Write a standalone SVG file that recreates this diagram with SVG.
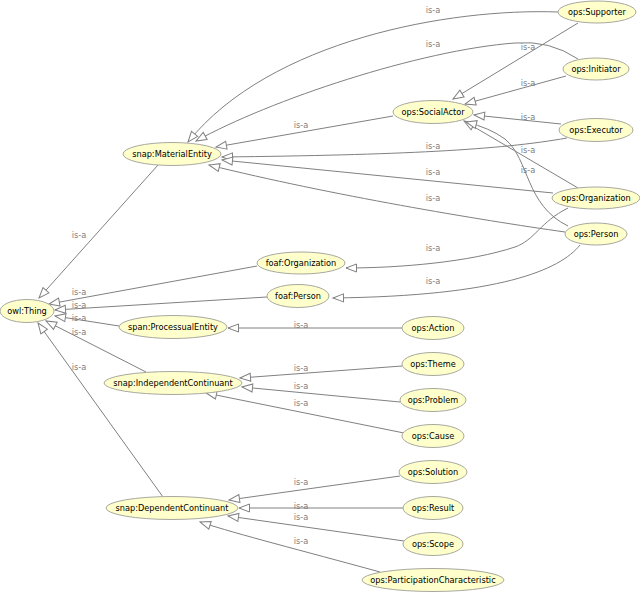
<svg xmlns="http://www.w3.org/2000/svg" width="640" height="592" viewBox="0 0 640 592">
<style>
.n ellipse{fill:#ffffcc;stroke:#a8a8a0;stroke-width:1}
.n text{font-family:"DejaVu Sans",sans-serif;font-size:8.2px;fill:#000;text-anchor:middle;dominant-baseline:central}
.e path{fill:none;stroke:#808080;stroke-width:1;marker-end:url(#tri)}
.l{font-family:"DejaVu Sans",sans-serif;font-size:8.2px;fill:#808080;text-anchor:middle;dominant-baseline:central}
</style>
<defs>
<marker id="tri" markerUnits="userSpaceOnUse" markerWidth="13" markerHeight="10" refX="11" refY="4.5" orient="auto" overflow="visible">
<path d="M0.5,0.5 L11,4.5 L0.5,8.5 Z" fill="#fff" stroke="#808080" stroke-width="1"/>
</marker>
</defs>
<rect width="640" height="592" fill="#fff"/>
<g id="connectors" class="e">
<path d="M558,12 C450,8 270,40 188,142"/>
<path d="M578,59 Q550,40 515,43 C420,50 270,100 196,141"/>
<path d="M393,116 L216,147"/>
<path d="M567,138 C500,150 400,155 222,157"/>
<path d="M553,193 L222,160"/>
<path d="M565,232 C480,220 330,195 209,165"/>
<path d="M578,23 L453,99"/>
<path d="M566,76 L465,104"/>
<path d="M561,124 L474,115"/>
<path d="M578,188 L464,121"/>
<path d="M568,226 C525,205 530,160 505,139 Q490,128 466,122"/>
<path d="M568,208 C540,222 535,240 515,247 C470,262 400,268 346,268"/>
<path d="M580,245 C560,270 500,296 333,298"/>
<path d="M158,165 L39,298"/>
<path d="M257,266 L49,304"/>
<path d="M267,297 L55,310"/>
<path d="M119,326 L55,316"/>
<path d="M146,372 L46,321"/>
<path d="M163,497 L38,323"/>
<path d="M402,328 L228,328"/>
<path d="M402,366 L240,378"/>
<path d="M400,402 L242,387"/>
<path d="M404,433 L206,393"/>
<path d="M400,476 L229,500"/>
<path d="M403,508 L239,508"/>
<path d="M404,541 L228,516"/>
<path d="M380,572 C300,550 240,535 200,522"/>
</g>
<g id="edge-labels">
<text class="l" x="433" y="10">is-a</text>
<text class="l" x="433" y="44">is-a</text>
<text class="l" x="301" y="125">is-a</text>
<text class="l" x="433" y="146">is-a</text>
<text class="l" x="433" y="172">is-a</text>
<text class="l" x="433" y="198">is-a</text>
<text class="l" x="528" y="47">is-a</text>
<text class="l" x="528" y="83">is-a</text>
<text class="l" x="528" y="117">is-a</text>
<text class="l" x="528" y="150">is-a</text>
<text class="l" x="528" y="170">is-a</text>
<text class="l" x="433" y="248">is-a</text>
<text class="l" x="433" y="281">is-a</text>
<text class="l" x="79" y="235">is-a</text>
<text class="l" x="79" y="292">is-a</text>
<text class="l" x="79" y="305">is-a</text>
<text class="l" x="79" y="318">is-a</text>
<text class="l" x="79" y="332">is-a</text>
<text class="l" x="79" y="367">is-a</text>
<text class="l" x="301" y="325">is-a</text>
<text class="l" x="301" y="368">is-a</text>
<text class="l" x="301" y="386">is-a</text>
<text class="l" x="301" y="403">is-a</text>
<text class="l" x="301" y="482">is-a</text>
<text class="l" x="301" y="506">is-a</text>
<text class="l" x="301" y="517">is-a</text>
<text class="l" x="301" y="541">is-a</text>
</g>
<g id="owl-Thing" class="n"><ellipse cx="27" cy="311" rx="27" ry="11.5"/><text x="27" y="311">owl:Thing</text></g>
<g id="snap-MaterialEntity" class="n"><ellipse cx="172" cy="154" rx="49" ry="11.5"/><text x="172" y="154">snap:MaterialEntity</text></g>
<g id="foaf-Organization" class="n"><ellipse cx="301" cy="263" rx="44" ry="11"/><text x="301" y="263">foaf:Organization</text></g>
<g id="foaf-Person" class="n"><ellipse cx="298" cy="296" rx="31" ry="11.5"/><text x="298" y="296">foaf:Person</text></g>
<g id="span-ProcessualEntity" class="n"><ellipse cx="173" cy="327" rx="54" ry="11.5"/><text x="173" y="327">span:ProcessualEntity</text></g>
<g id="snap-IndependentContinuant" class="n"><ellipse cx="173" cy="383" rx="69" ry="11.5"/><text x="173" y="383">snap:IndependentContinuant</text></g>
<g id="snap-DependentContinuant" class="n"><ellipse cx="172" cy="508" rx="66" ry="11.5"/><text x="172" y="508">snap:DependentContinuant</text></g>
<g id="ops-SocialActor" class="n"><ellipse cx="433" cy="112" rx="40" ry="11.5"/><text x="433" y="112">ops:SocialActor</text></g>
<g id="ops-Supporter" class="n"><ellipse cx="597" cy="12" rx="39" ry="11"/><text x="597" y="12">ops:Supporter</text></g>
<g id="ops-Initiator" class="n"><ellipse cx="596" cy="69" rx="33" ry="11"/><text x="596" y="69">ops:Initiator</text></g>
<g id="ops-Executor" class="n"><ellipse cx="596" cy="130" rx="37" ry="11.5"/><text x="596" y="130">ops:Executor</text></g>
<g id="ops-Organization" class="n"><ellipse cx="596" cy="198" rx="44" ry="11"/><text x="596" y="198">ops:Organization</text></g>
<g id="ops-Person" class="n"><ellipse cx="596" cy="234" rx="31" ry="11"/><text x="596" y="234">ops:Person</text></g>
<g id="ops-Action" class="n"><ellipse cx="433" cy="328" rx="31" ry="11.5"/><text x="433" y="328">ops:Action</text></g>
<g id="ops-Theme" class="n"><ellipse cx="433" cy="364" rx="31" ry="11.5"/><text x="433" y="364">ops:Theme</text></g>
<g id="ops-Problem" class="n"><ellipse cx="433" cy="400" rx="33" ry="11.5"/><text x="433" y="400">ops:Problem</text></g>
<g id="ops-Cause" class="n"><ellipse cx="433" cy="436" rx="31" ry="11.5"/><text x="433" y="436">ops:Cause</text></g>
<g id="ops-Solution" class="n"><ellipse cx="433" cy="472" rx="34" ry="11.5"/><text x="433" y="472">ops:Solution</text></g>
<g id="ops-Result" class="n"><ellipse cx="433" cy="508" rx="30" ry="11.5"/><text x="433" y="508">ops:Result</text></g>
<g id="ops-Scope" class="n"><ellipse cx="433" cy="544" rx="30" ry="11.5"/><text x="433" y="544">ops:Scope</text></g>
<g id="ops-ParticipationCharacteristic" class="n"><ellipse cx="433" cy="580" rx="71" ry="11.5"/><text x="433" y="580">ops:ParticipationCharacteristic</text></g>
</svg>
